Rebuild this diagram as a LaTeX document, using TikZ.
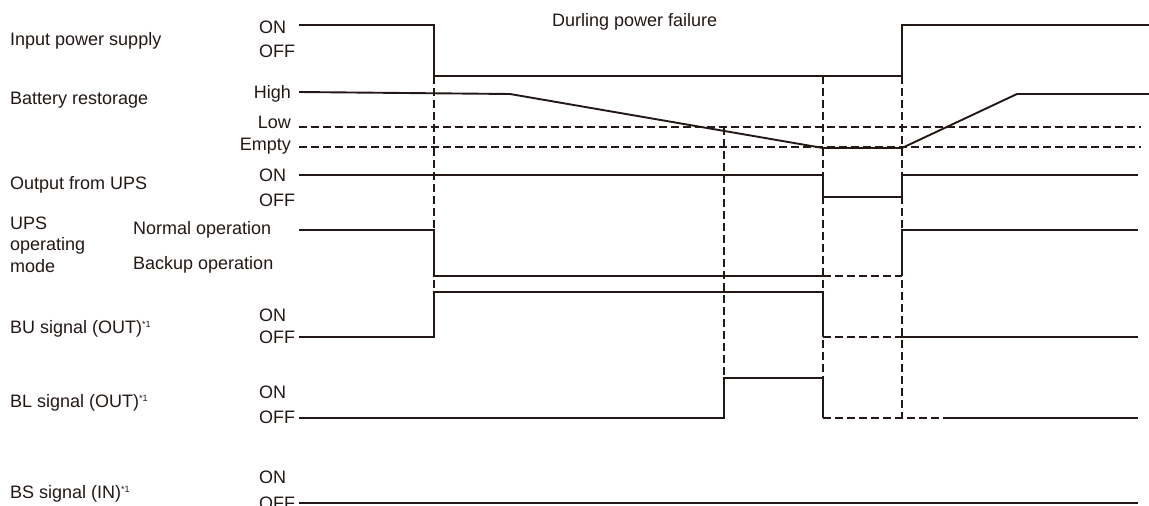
\documentclass[tikz,border=0pt]{standalone}
\usepackage{fontspec}
\setmainfont{Liberation Sans}
\usepackage{xcolor}
\usepackage{tikz}
\usetikzlibrary{positioning}
\definecolor{ink}{RGB}{35,24,21}
\newcommand{\note}{\raisebox{6pt}{\fontsize{9}{9}\selectfont *1}}

\begin{document}
\begin{tikzpicture}[
        x=1pt, y=-1pt,
        sig/.style={draw=ink, line width=1.9pt, line join=miter},
        guide/.style={draw=ink, line width=1.9pt, dash pattern=on 7.5pt off 4.5pt},
        lbl/.style={anchor=base west, inner sep=0pt, text=ink, font=\fontsize{18}{21}\selectfont},
        lvl/.style={anchor=base east, inner sep=0pt, text=ink, font=\fontsize{18}{21}\selectfont}
    ]
    \useasboundingbox (0,0) rectangle (1149,506);

    % row labels
    \node[lbl] (inps) at (10,45.7) {Input power supply};
    \node[lbl] (bat) at (10,104) {Battery restorage};
    \node[lbl] (outp) at (10,189) {Output from UPS};
    \node[lbl] (mode1) at (10,229) {UPS};
    \node[lbl] (mode2) at (10,250.7) {operating};
    \node[lbl] (mode3) at (10,272.7) {mode};
    \node[lbl] (bu) at (10,333.3) {BU signal (OUT)\note};
    \node[lbl] (bl) at (10,407.3) {BL signal (OUT)\note};
    \node[lbl] (bs) at (10,498.3) {BS signal (IN)\note};
    \node[lbl] (fail) at (552,26) {Durling power failure};

    % level labels
    \node[lbl] (inon) at (259,33.5) {ON};
    \node[lbl] (inoff) at (259,57) {OFF};
    \node[lvl] (high) at (291,98) {High};
    \node[lvl] (low) at (291,128) {Low};
    \node[lvl] (empty) at (291,150) {Empty};
    \node[lbl] (outon) at (259,181.7) {ON};
    \node[lbl] (outoff) at (259,206.7) {OFF};
    \node[lbl] (normal) at (133,234) {Normal operation};
    \node[lbl] (backup) at (133,269) {Backup operation};
    \node[lbl] (buon) at (259,321.7) {ON};
    \node[lbl] (buoff) at (259,343.3) {OFF};
    \node[lbl] (blon) at (259,398.3) {ON};
    \node[lbl] (bloff) at (259,423.3) {OFF};
    \node[lbl] (bson) at (259,483.3) {ON};
    \node[lbl] (bsoff) at (259,509) {OFF};

    % guide lines
    \draw[guide] (299,127) -- (1141,127);
    \draw[guide] (299,147) -- (1141,147);
    \draw[guide] (434,76) -- (434,337);
    \draw[guide] (724,127) -- (724,378);
    \draw[guide] (823,76) -- (823,418);
    \draw[guide] (902,76) -- (902,418);
    \draw[guide] (823,276) -- (902,276);
    \draw[guide] (823,337) -- (902,337);
    \draw[guide] (823,418) -- (945,418);

    % waveforms
    \draw[sig] (299,25) -- (434,25) -- (434,76) -- (902,76) -- (902,25) -- (1149,25);
    \draw[sig] (299,92) -- (510,94) -- (823,148) -- (902,148) -- (1017,94) -- (1149,94);
    \draw[sig] (299,175) -- (823,175) -- (823,197) -- (902,197) -- (902,175) -- (1138,175);
    \draw[sig] (299,230) -- (434,230) -- (434,276) -- (823,276);
    \draw[sig] (902,276) -- (902,230) -- (1138,230);
    \draw[sig] (299,337) -- (434,337) -- (434,292) -- (823,292) -- (823,337);
    \draw[sig] (902,337) -- (1138,337);
    \draw[sig] (299,418) -- (724,418) -- (724,378) -- (823,378) -- (823,418);
    \draw[sig] (945,418) -- (1138,418);
    \draw[sig] (299,503) -- (1138,503);

    \end{tikzpicture}
\end{document}
